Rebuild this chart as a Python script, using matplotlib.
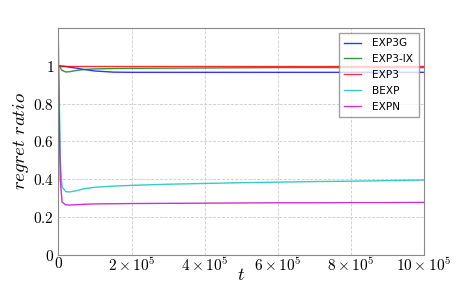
import matplotlib
matplotlib.use('Agg')
from matplotlib import pyplot as plt

plt.rcParams['mathtext.fontset'] = 'cm'

# time steps
t = [0, 5e3, 1e4, 2e4, 3e4, 5e4, 7e4, 1e5, 1.5e5, 2e5, 3e5, 4e5, 5e5, 6e5, 7e5, 8e5, 9e5, 1e6]

exp3g = [1.0, 0.999, 0.998, 0.996, 0.992, 0.987, 0.98, 0.972, 0.966, 0.965, 0.965, 0.965, 0.965, 0.965, 0.965, 0.965, 0.965, 0.965]
exp3ix = [1.0, 0.99, 0.975, 0.967, 0.968, 0.975, 0.98, 0.983, 0.985, 0.986, 0.987, 0.988, 0.989, 0.99, 0.99, 0.99, 0.99, 0.99]
exp3 = [1.0] * len(t)
bexp = [1.13, 0.5, 0.36, 0.335, 0.333, 0.34, 0.35, 0.358, 0.364, 0.368, 0.374, 0.378, 0.382, 0.385, 0.388, 0.39, 0.393, 0.396]
expn = [1.0, 0.4, 0.28, 0.265, 0.264, 0.266, 0.268, 0.27, 0.271, 0.272, 0.273, 0.274, 0.275, 0.276, 0.276, 0.277, 0.277, 0.278]

series = [('EXP3G', exp3g, 'b'), ('EXP3-IX', exp3ix, 'g'), ('EXP3', exp3, 'r'),
          ('BEXP', bexp, 'c'), ('EXPN', expn, 'm')]

fig = plt.figure(figsize=(4.71, 2.84), dpi=100)
ax = fig.add_axes([0.124, 0.102, 0.776, 0.8])

for name, vals, col in series:
    ax.plot(t, vals, color=col, lw=1, alpha=0.8, label=name)

ax.set_xlim(0, 1e6)
ax.set_ylim(0, 1.2)
xt = [0, 2e5, 4e5, 6e5, 8e5, 1e6]
ax.set_xticks(xt)
ax.set_xticklabels(['$0$'] + [r'$%d\times10^5$' % (v / 1e5) for v in xt[1:]], fontsize=11)
yt = [0, 0.2, 0.4, 0.6, 0.8, 1.0]
ax.set_yticks(yt)
ax.set_yticklabels(['$0$', '$0.2$', '$0.4$', '$0.6$', '$0.8$', '$1$'], fontsize=11)
ax.tick_params(axis='x', length=0, pad=1)
ax.tick_params(axis='y', length=0, pad=3)
ax.grid(True, ls='--', color='#cccccc', lw=0.6)
for s in ax.spines.values():
    s.set_color('#888888')

ax.set_xlabel('$t$', fontsize=13)
ax.xaxis.set_label_coords(0.5, -0.05)
ax.set_ylabel(r'$regret\ ratio$', fontsize=13.5)
ax.yaxis.set_label_coords(-0.076, 0.5)

leg = ax.legend(loc='upper right', prop={'size': 7.6}, fancybox=False, borderaxespad=0.5,
                handlelength=1.6, handletextpad=1.1, labelspacing=0.55, borderpad=0.5)
leg.get_frame().set_edgecolor('#888888')

plt.savefig('out.png', dpi=100)
